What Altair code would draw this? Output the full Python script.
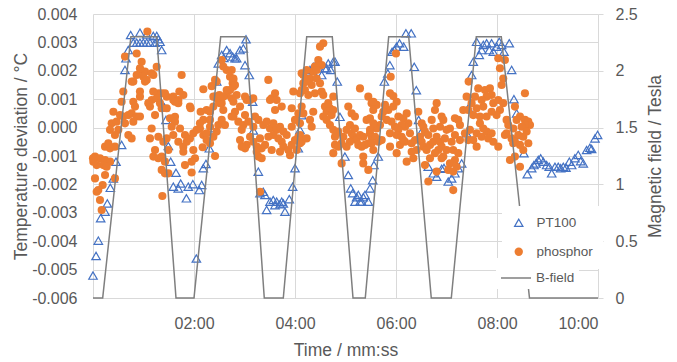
import altair as alt
import pandas as pd

FONT = "Liberation Sans"
TEXT = "#595959"
GRID = "#D9D9D9"

# ---------------- axis ticks / labels ----------------
x_tick_seconds = [0, 120, 240, 360, 480, 600]
temp_ticks = [0.004, 0.003, 0.002, 0.001, 0.0, -0.001, -0.002, -0.003, -0.004, -0.005, -0.006]
field_ticks = [0, 0.5, 1, 1.5, 2, 2.5]

point_series = ["PT100", "phosphor"]
point_stroke = ["#4472C4", "transparent"]
point_fill = ["transparent", "#ED7D31"]
point_shapes = ["triangle-up", "circle"]
line_series = ["B-field"]
line_color = ["#7F7F7F"]

# ---------------- B-field (secondary axis) ----------------
bfield_time_s = [0, 11.5, 45, 75.7, 98.6, 120, 151.7, 181.8, 203.5, 226.1, 253.9, 284.3,
                 308.9, 323.5, 351.3, 375.1, 401.9, 425.7, 455.4, 485.1, 518.6, 600]
bfield_tesla = [0, 0, 2.3, 2.3, 0, 0, 2.3, 2.3, 0, 0, 2.3, 2.3,
                0, 0, 2.3, 2.3, 0, 0, 2.3, 2.3, 0, 0]

# ---------------- PT100 (time in s, deviation in mK) ----------------
pt100_time_s = [
    0.0, 3.6, 6.3, 9.1, 14.3, 17.0, 20.6, 24.1, 27.3, 34.0,
    38.0, 39.2, 41.9, 44.8, 47.9, 51.9, 55.8, 55.8, 59.8, 63.8,
    63.8, 67.7, 71.6, 73.7, 75.7, 77.6, 79.6, 81.6, 84.7, 86.7,
    89.5, 92.3, 95.4, 98.6, 101.3, 104.2, 111.0, 113.2, 118.6, 122.8,
    126.3, 129.1, 131.0, 134.2, 138.2, 141.0, 147.0, 148.9, 152.9, 155.5,
    158.8, 162.8, 166.0, 168.7, 170.7, 174.6, 178.6, 180.6, 181.8, 185.7,
    189.7, 190.5, 196.4, 198.4, 202.3, 204.3, 206.3, 210.3, 214.2, 216.2,
    218.2, 222.2, 224.2, 226.1, 228.1, 233.2, 237.2, 240.0, 243.9, 245.9,
    247.9, 253.9, 257.8, 261.7, 262.5, 265.8, 267.6, 271.7, 275.6, 277.6,
    279.5, 282.4, 285.5, 287.5, 290.2, 293.4, 295.5, 299.3, 303.3, 306.2,
    308.5, 311.3, 313.2, 315.2, 317.2, 319.2, 321.1, 323.1, 327.1, 329.1,
    332.3, 333.8, 338.9, 346.2, 350.3, 352.7, 355.4, 358.2, 360.6, 364.2,
    369.1, 371.8, 378.1, 381.7, 384.1, 386.9, 390.5, 398.3, 404.3, 408.3,
    414.3, 417.0, 422.1, 426.1, 430.0, 434.0, 438.0, 444.0, 445.9, 449.9,
    451.8, 455.8, 458.9, 461.8, 463.7, 467.7, 470.8, 473.6, 475.6, 479.6,
    482.7, 485.5, 488.3, 494.6, 497.4, 500.1, 503.3, 506.4, 512.0,
    516.0, 521.2, 523.9, 526.3, 529.0, 531.9, 535.0, 539.0, 542.1, 545.0,
    548.9, 552.8, 555.6, 558.8, 561.9, 565.9, 568.7, 572.6, 576.5, 579.4,
    582.5, 586.5, 590.4, 592.4, 596.4, 599.5]
pt100_dT_mK = [
    -5.21, -4.52, -3.98, -3.19, -2.96, -2.67, -2.12, -1.79, -1.20, -0.61,
    2.03, 2.44, 2.73, 3.26, 2.99, 2.99, 3.34, 2.99, 2.99, 3.28,
    2.99, 2.99, 3.23, 2.99, 3.23, 3.11, 3.02, 2.73, 0.71, 0.27,
    -0.65, -1.20, -2.08, -1.59, -2.14, -1.97, -2.49, -2.08, -1.99, -4.61,
    -2.20, -2.02, -1.43, -1.28, -0.73, -0.02, 1.62, 2.26, 2.56, 2.45,
    2.73, 2.62, 2.50, 2.44, 2.44, 2.73, 2.79, 2.20, 3.11, 1.85,
    0.91, -0.10, -1.55, -2.31, -2.26, -2.37, -2.90, -2.61, -2.55, -2.73,
    -2.61, -2.70, -2.61, -2.67, -2.96, -2.52, -2.08, -1.43, -0.73, -0.08,
    0.44, 1.97, 2.03, 2.14, 1.91, 2.26, 2.20, 1.85, 2.09, 2.09,
    2.26, 2.03, 2.32, 2.32, 1.62, 0.38, -0.55, -1.02, -1.67, -2.14,
    -2.31, -2.61, -2.45, -2.37, -2.61, -2.61, -2.45, -2.37, -2.61, -2.14,
    -1.85, -1.32, -1.02, 1.62, 1.91, 2.20, 2.67, 2.73, 2.85, 2.97,
    2.85, 3.32, 3.32, 2.14, 1.32, 0.27, -0.14, -1.38, -1.61, -1.73,
    -1.45, -1.42, -1.90, -1.79, -1.61, -1.43, -1.26, -0.20, 0.68, 1.85,
    2.32, 3.02, 2.56, 2.73, 2.91, 2.97, 2.73, 2.97, 2.67, 2.85,
    3.02, 2.91, 2.67, 2.97, 2.03, 1.00, 0.50, -0.26, -0.90,
    -1.64, -1.43, -1.32, -1.26, -1.14, -1.08, -1.20, -1.32, -1.38, -1.61,
    -1.38, -1.38, -1.43, -1.38, -1.41, -1.20, -1.32, -1.08, -0.96, -1.18,
    -1.26, -0.79, -0.71, -0.75, -0.38, -0.26]

# ---------------- phosphor (time in s, deviation in mK), by field cycle ----------------
phos_time_1 = [
    64.6, 51.9, 57.8, 56.6, 61.8, 59.8, 51.9, 47.9, 63.8, 71.7,
    55.8, 36.0, 77.6, 34.0, 47.9, 69.7, 67.7, 81.6, 24.2, 32.1,
    36.0, 42.0, 45.9, 51.9, 55.8, 73.7, 22.2, 28.1, 38.0, 47.9,
    20.2, 30.1, 69.7, 26.1, 42.0, 45.9, 67.7, 77.6, 14.3, 20.2,
    26.1, 18.2, 73.7, 2.4, 8.3, 14.3, 20.2, 12.3, 4.4, 16.2,
    0.4, 71.7, 77.6, 81.6, 2.4, 14.3, 26.1, 11.5, 4.4, 8.3,
    10.3, 6.3, 82.4, 85.5, 38.0, 55.8, 69.7, 75.7, 46.0, 61.8,
    71.6, 81.6, 87.6, 55.8, 49.9, 75.7, 65.7, 79.6, 87.6, 95.4,
    101.3, 107.3, 97.4, 115.2, 0.0]
phos_dT_1 = [
    3.38, 2.61, 2.32, 2.03, 1.97, 1.79, 1.85, 1.62, 1.68, 1.85,
    1.27, 1.27, 1.21, 0.91, 0.91, 0.97, 0.74, 0.68, 0.56, 0.44,
    0.39, 0.44, 0.50, 0.39, 0.39, 0.44, 0.15, 0.21, 0.15, 0.21,
    -0.08, -0.08, -0.03, -0.26, -0.26, -0.38, -0.38, -0.32, -0.67, -0.73,
    -0.67, -0.55, -0.79, -1.02, -1.08, -1.14, -1.20, -1.32, -1.32, -1.38,
    -1.20, -1.02, -1.08, -1.02, -1.79, -1.67, -1.79, -2.02, -2.26, -2.55,
    -2.90, -2.20, -2.41, -1.61, 2.50, 2.09, 1.91, 2.14, 1.62, 1.62,
    1.27, 1.21, 1.09, 1.09, 0.74, 1.03, 0.86, 0.86, 0.68, 0.97,
    0.86, 1.15, 0.38, 0.74, -1.08]

phos_time_2 = [
    105.3, 85.5, 95.4, 102.6, 101.4, 97.4, 131.1, 141.0, 146.9, 116.0,
    127.9, 135.0, 139.0, 143.0, 148.9, 150.1, 145.0, 154.8, 158.8, 162.8,
    165.9, 162.8, 158.8, 152.9, 164.7, 154.8, 164.7, 145.0, 91.5, 97.4,
    93.5, 103.4, 87.5, 95.4, 101.4, 107.3, 111.3, 109.3, 115.2, 119.2,
    123.2, 127.1, 131.1, 135.0, 139.0, 143.0, 146.9, 148.9, 152.9, 156.8,
    131.1, 127.1, 139.0, 83.6, 89.5, 85.5, 89.5, 81.6, 107.3, 119.2,
    121.2, 117.2, 109.3, 130.3, 145.0, 139.0, 135.0, 117.2, 143.0, 150.9,
    154.8, 158.8, 166.7, 152.9, 166.7, 182.6, 190.4]
phos_dT_2 = [
    1.85, 1.21, 1.09, 1.27, 0.97, 0.91, 1.35, 1.46, 1.62, 0.68,
    0.56, 0.62, 0.56, 0.74, 0.97, 1.15, 1.09, 2.15, 2.03, 1.79,
    1.56, 1.32, 1.15, 0.86, 1.03, 0.62, 0.39, 1.68, 0.33, 0.21,
    0.03, -0.03, -0.38, -0.26, -0.50, -0.67, -0.50, -0.26, -0.38, -0.20,
    -0.08, -0.03, -0.26, -0.20, 0.03, -0.32, -0.14, 0.09, 0.27, 0.09,
    0.27, 0.15, 0.27, -0.50, -0.79, -1.20, -1.61, -1.49, -0.85, -0.79,
    -1.08, -1.20, -1.32, -0.69, -1.00, -0.55, -0.44, -1.58, 1.09, 0.86,
    1.09, 1.32, 1.44, 2.38, 1.68, 0.97, 1.03]

phos_time_3 = [
    208.3, 164.8, 166.8, 168.7, 170.7, 166.8, 174.7, 168.7, 172.7, 166.8,
    180.6, 186.6, 180.6, 178.6, 184.6, 190.5, 186.6, 176.7, 182.6, 180.6,
    190.5, 198.4, 194.5, 200.4, 204.4, 196.5, 194.5, 200.4, 176.7, 174.7,
    192.5, 196.5, 202.4, 206.4, 210.3, 214.3, 218.2, 222.2, 226.2, 230.1,
    224.2, 220.2, 214.3, 208.3, 226.2, 232.1, 236.1, 240.0, 246.0, 244.0,
    242.0, 234.1, 222.2, 212.3, 236.1, 240.0, 244.0, 247.9, 236.1, 246.0,
    249.9, 247.9, 238.0, 224.2, 216.3, 212.3, 216.3, 210.3, 198.4, 218.2,
    248.0, 251.9]
phos_dT_3 = [
    1.68, 2.03, 1.73, 1.50, 1.15, 0.91, 0.74, 0.56, 0.21, 0.39,
    1.09, 0.97, 0.44, 0.09, 0.21, 0.03, -0.32, -0.08, -0.61, -0.73,
    -0.50, -0.38, -0.67, -0.73, -0.61, -1.02, -0.85, -1.08, -0.67, -0.44,
    0.39, 0.27, 0.09, 0.21, -0.03, 0.15, -0.08, 0.03, -0.14, -0.26,
    -0.50, -0.38, -0.26, -0.32, -0.67, -0.79, -0.61, -0.44, -0.55, -0.32,
    -0.79, -0.97, -0.85, -0.79, 0.03, 0.27, 0.50, 0.74, 0.68, 1.21,
    1.56, 1.91, 1.27, 0.74, 0.62, 1.03, 1.21, 0.97, -2.26, 0.97,
    1.32, 1.62]

phos_time_4 = [
    273.6, 269.7, 267.7, 271.6, 263.7, 261.7, 253.8, 249.9, 257.8, 265.7,
    269.7, 259.8, 251.8, 255.8, 263.7, 271.6, 273.6, 253.8, 261.7, 257.8,
    259.8, 275.6, 277.6, 281.5, 283.5, 273.6, 277.6, 245.9, 247.9, 253.8,
    245.9, 249.9, 281.5, 285.5, 287.5, 291.4, 287.5, 285.5, 295.4, 295.4,
    297.4, 301.3, 305.3, 307.3, 311.2, 309.3, 313.2, 317.2, 321.1, 315.2,
    319.2, 323.1, 305.3, 301.3, 303.3, 307.3, 311.2, 317.2, 327.1, 325.1,
    329.1, 329.1, 331.0, 327.1, 321.1, 321.1, 327.1, 333.0, 333.0, 331.0,
    265.8, 285.5, 279.5, 285.5, 289.5, 291.4]
phos_dT_4 = [
    2.97, 2.85, 2.38, 2.20, 2.15, 1.97, 2.03, 1.85, 1.73, 1.73,
    1.56, 1.50, 1.32, 1.15, 1.21, 1.27, 1.15, 1.62, 0.56, 0.27,
    0.03, 0.74, 0.56, 0.68, 0.44, 0.39, 0.27, -0.26, -0.50, -0.38,
    0.15, 0.50, 0.09, -0.08, -0.32, -0.14, -0.61, -0.90, -0.55, -1.26,
    -0.32, -0.08, 0.09, -0.20, -0.03, -0.32, -0.44, -0.26, -0.32, -0.61,
    -0.67, -0.61, -0.50, -0.67, 0.74, 0.50, 0.39, 1.38, 1.09, 0.27,
    0.33, -0.20, -0.32, -0.55, -1.02, -1.26, -1.49, -0.79, 0.62, 0.86,
    2.03, 1.09, 0.86, 0.62, -0.20, -0.67]

phos_time_5 = [
    360.0, 353.7, 352.9, 356.8, 360.8, 356.8, 350.9, 346.9, 344.9, 337.0,
    333.1, 362.8, 368.7, 372.7, 374.6, 370.7, 366.7, 362.8, 358.8, 354.8,
    348.9, 343.0, 341.0, 337.0, 333.1, 329.1, 335.1, 331.1, 339.0, 343.0,
    352.9, 360.8, 366.7, 370.7, 364.7, 368.7, 376.6, 378.6, 382.6, 384.5,
    378.6, 380.6, 372.7, 360.8, 352.9, 386.5, 390.5, 392.5, 394.4, 388.5,
    390.5, 392.5, 396.4, 400.4, 404.3, 408.3, 412.3, 414.2, 410.3, 406.3,
    400.4, 394.4, 398.4, 408.3, 414.2, 402.4, 406.3, 408.3, 414.2, 412.3,
    404.3, 398.4]
phos_dT_5 = [
    2.61, 1.79, 1.21, 1.11, 0.91, 0.74, 0.62, 0.80, 0.56, 0.80,
    0.91, 0.39, 0.33, 0.50, 0.15, 0.03, 0.09, -0.08, 0.03, 0.21,
    0.27, 0.39, 0.09, -0.03, 0.15, -0.08, -0.32, -0.55, -0.50, -0.44,
    -0.20, -0.26, -0.32, -0.50, -0.61, -0.44, -0.20, -0.55, -0.44, -0.79,
    -0.85, -1.08, -1.20, -0.90, -0.67, 0.56, 0.15, 0.03, -0.14, -0.32,
    -0.50, -0.67, -0.79, -0.61, -0.50, -0.32, -0.50, -0.67, -0.79, -0.90,
    -1.08, -1.32, -1.90, -1.55, -1.08, 0.27, 0.62, 0.86, 0.39, 0.03,
    -0.03, -0.26]

phos_time_6 = [
    481.5, 489.4, 483.5, 487.4, 485.5, 457.7, 465.7, 471.6, 473.6, 467.6,
    461.7, 453.8, 443.9, 449.8, 455.8, 463.7, 475.6, 481.5, 487.4, 483.5,
    479.5, 473.6, 467.6, 459.7, 451.8, 445.9, 439.9, 434.0, 430.0, 436.0,
    424.1, 416.2, 420.1, 459.7, 463.7, 455.8, 447.8, 441.9, 436.0, 430.0,
    426.1, 418.1, 420.1, 428.0, 434.0, 430.0, 424.1, 416.2, 422.1, 428.0,
    432.0, 428.0, 445.9, 451.8, 455.8, 461.7, 467.6, 473.6, 469.6, 475.6,
    481.5, 489.4, 491.4, 493.4, 497.3, 495.4, 499.3, 491.4, 446.3]
phos_dT_6 = [
    2.44, 2.38, 2.09, 1.73, 1.50, 1.38, 1.32, 1.38, 1.15, 1.09,
    0.97, 1.09, 1.09, 0.86, 0.68, 0.74, 0.86, 0.97, 0.86, 0.62,
    0.44, 0.56, 0.39, 0.39, 0.44, 0.62, 0.62, 0.27, 0.33, 0.09,
    -0.03, 0.27, -0.08, 0.15, -0.03, -0.20, -0.08, -0.20, -0.44, -0.26,
    -0.50, -0.38, -0.79, -0.79, -0.90, -1.14, -1.26, -1.02, -1.49, -1.55,
    -1.38, -2.20, -0.44, -0.44, -0.67, -0.32, -0.14, -0.20, -0.38, -0.50,
    -0.67, -0.26, -0.20, 0.09, -0.38, -1.14, -0.55, 0.27, 1.62]

phos_time_7 = [
    513.2, 501.3, 507.3, 513.2, 517.2, 519.2, 513.2, 503.3, 509.3, 515.2,
    499.4, 505.3, 511.2, 517.2, 501.3, 507.3, 511.2, 501.3, 507.3]
phos_dT_7 = [
    1.21, 0.74, 0.39, 0.27, 0.21, 0.09, 0.09, 0.27, 0.03, -0.14,
    -0.03, -0.26, -0.32, -0.55, -0.50, -0.61, -0.79, -1.02, -1.38]

# ---------------- tables ----------------
phos_time = (phos_time_1 + phos_time_2 + phos_time_3 + phos_time_4
             + phos_time_5 + phos_time_6 + phos_time_7)
phos_dT = (phos_dT_1 + phos_dT_2 + phos_dT_3 + phos_dT_4
           + phos_dT_5 + phos_dT_6 + phos_dT_7)

pt_df = pd.DataFrame({"t": pt100_time_s, "dT": [v / 1000 for v in pt100_dT_mK]})
pt_df["series"] = "PT100"
ph_df = pd.DataFrame({"t": phos_time, "dT": [v / 1000 for v in phos_dT]})
ph_df["series"] = "phosphor"
bf_df = pd.DataFrame({"t": bfield_time_s, "B": bfield_tesla})
bf_df["series"] = "B-field"

point_legend = alt.Legend(
    title=None, orient="none", legendX=409, legendY=192,
    fillColor="white", padding=10, rowPadding=14,
    symbolSize=70, symbolOffset=0, labelOffset=11, symbolStrokeWidth=1.2,
    symbolOpacity=1, labelFont=FONT, labelFontSize=13.5, labelColor=TEXT,
)
line_legend = alt.Legend(
    title=None, orient="none", legendX=403, legendY=244,
    fillColor="white", padding=4, symbolType="stroke", symbolSize=900,
    symbolStrokeWidth=1.5, symbolOffset=0, labelOffset=4, symbolOpacity=1,
    labelFont=FONT, labelFontSize=13.5, labelColor=TEXT,
)

fill_enc = alt.Fill("series:N", scale=alt.Scale(domain=point_series, range=point_fill), legend=point_legend)
stroke_enc = alt.Stroke("series:N", scale=alt.Scale(domain=point_series, range=point_stroke), legend=point_legend)
shape_enc = alt.Shape("series:N", scale=alt.Scale(domain=point_series, range=point_shapes), legend=point_legend)
line_color_enc = alt.Color("series:N", scale=alt.Scale(domain=line_series, range=line_color), legend=line_legend)

x_enc = alt.X(
    "t:Q",
    scale=alt.Scale(domain=[0, 600], nice=False, zero=False),
    axis=alt.Axis(
        values=x_tick_seconds,
        labelExpr="datum.value == 0 ? '' : utcFormat(datum.value * 1000, '%M:%S')",
        title="Time / mm:ss", grid=True, gridColor=GRID, domain=False,
        ticks=False, tickSize=0, labelPadding=17, titlePadding=10,
    ),
)

y_left = alt.Y(
    "dT:Q",
    scale=alt.Scale(domain=[-0.006, 0.004], nice=False, zero=False),
    axis=alt.Axis(
        orient="left", values=temp_ticks,
        labelExpr="replace(format(datum.value, '.3f'), '\u2212', '-')",
        title="Temperature deviation / °C", grid=True, gridColor=GRID,
        domain=False, ticks=False, tickSize=0, labelPadding=16, titlePadding=1,
    ),
)

y_right = alt.Y(
    "B:Q",
    scale=alt.Scale(domain=[0, 2.5], nice=False, zero=False),
    axis=alt.Axis(
        orient="right", values=field_ticks, format="~g",
        title="Magnetic field / Tesla", grid=False, domain=False,
        ticks=True, tickSize=5, tickColor=GRID, labelPadding=12,
        titlePadding=9, titleAngle=270, titleBaseline="top",
    ),
)

pt_layer = alt.Chart(pt_df).mark_point(size=72, strokeWidth=1.2, opacity=1).encode(
    x=x_enc, y=y_left, fill=fill_enc, stroke=stroke_enc, shape=shape_enc
)

ph_layer = alt.Chart(ph_df).mark_point(size=66, strokeWidth=0, opacity=1).encode(
    x=x_enc, y=y_left, fill=fill_enc, stroke=stroke_enc, shape=shape_enc
)

bf_layer = alt.Chart(bf_df).mark_line(strokeWidth=1.5).encode(
    x=x_enc, y=y_right, color=line_color_enc
)

chart = (
    alt.layer(alt.layer(pt_layer, ph_layer), bf_layer)
    .resolve_scale(y="independent")
    .properties(
        width=505, height=284,
        autosize=alt.AutoSizeParams(type="none"),
        padding={"left": 93, "top": 14, "right": 79, "bottom": 64},
        background="white",
    )
    .configure_view(stroke=None)
    .configure_axis(
        labelFont=FONT, labelFontSize=16, labelColor=TEXT,
        titleFont=FONT, titleFontSize=17.5, titleColor=TEXT, titleFontWeight="normal",
    )
)

chart.save("out.html", embed_options={"renderer": "svg", "actions": False})
